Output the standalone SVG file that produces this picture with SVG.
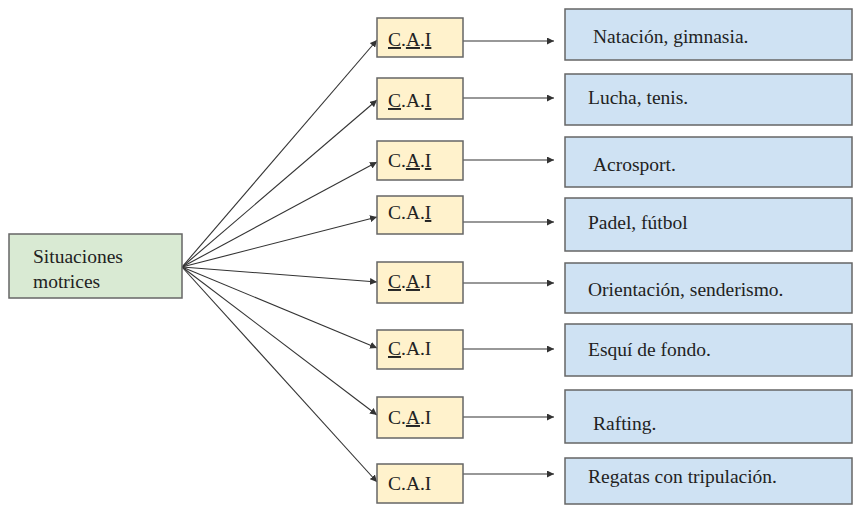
<svg xmlns="http://www.w3.org/2000/svg" width="855" height="505" viewBox="0 0 855 505">
<defs>
<marker id="ah" viewBox="0 0 10 10" refX="10" refY="5" markerWidth="7" markerHeight="7" markerUnits="userSpaceOnUse" orient="auto">
<path d="M0,0 L10,5 L0,10 z" fill="#333"/>
</marker>
<style>
.t{font-family:"Liberation Serif","Times New Roman",serif;font-size:19.5px;fill:#222}
.src{fill:#d9ead3;stroke:#666;stroke-width:1.5}
.cai{fill:#fff2cc;stroke:#666;stroke-width:1.5}
.res{fill:#cfe2f3;stroke:#666;stroke-width:1.5}
.u{text-decoration:underline}
#edges line{stroke:#333;stroke-width:1.1;marker-end:url(#ah)}
</style>
</defs>
<rect width="855" height="505" fill="#fff"/>
<g id="edges">
<line x1="182" y1="267" x2="377" y2="40"/>
<line x1="182" y1="267" x2="377" y2="100"/>
<line x1="182" y1="267" x2="377" y2="162"/>
<line x1="182" y1="267" x2="377" y2="217"/>
<line x1="182" y1="267" x2="377" y2="282"/>
<line x1="182" y1="267" x2="377" y2="348"/>
<line x1="182" y1="267" x2="377" y2="415"/>
<line x1="182" y1="267" x2="377" y2="482"/>
<line x1="463" y1="41" x2="554" y2="41"/>
<line x1="463" y1="98" x2="554" y2="98"/>
<line x1="463" y1="160" x2="554" y2="160"/>
<line x1="463" y1="222" x2="554" y2="222"/>
<line x1="463" y1="283" x2="554" y2="283"/>
<line x1="463" y1="349" x2="554" y2="349"/>
<line x1="463" y1="417" x2="554" y2="417"/>
<line x1="463" y1="474" x2="554" y2="474"/>
</g>
<g id="situaciones">
<rect class="src" x="9" y="234" width="173" height="64"/>
<text class="t" x="33" y="263">Situaciones</text>
<text class="t" x="33" y="288">motrices</text>
</g>
<g id="cai1"><rect class="cai" x="377" y="18" width="86" height="39"/><text class="t" x="388" y="46"><tspan class="u">C</tspan>.<tspan class="u">A</tspan>.<tspan class="u">I</tspan></text></g>
<g id="cai2"><rect class="cai" x="377" y="78" width="86" height="41"/><text class="t" x="388" y="107"><tspan class="u">C</tspan>.A.<tspan class="u">I</tspan></text></g>
<g id="cai3"><rect class="cai" x="377" y="141" width="86" height="39"/><text class="t" x="388" y="167">C.<tspan class="u">A</tspan>.<tspan class="u">I</tspan></text></g>
<g id="cai4"><rect class="cai" x="377" y="196" width="86" height="38"/><text class="t" x="388" y="219">C.A.<tspan class="u">I</tspan></text></g>
<g id="cai5"><rect class="cai" x="377" y="262" width="86" height="41"/><text class="t" x="388" y="288"><tspan class="u">C</tspan>.<tspan class="u">A</tspan>.I</text></g>
<g id="cai6"><rect class="cai" x="377" y="330" width="86" height="39"/><text class="t" x="388" y="355"><tspan class="u">C</tspan>.A.I</text></g>
<g id="cai7"><rect class="cai" x="377" y="397" width="86" height="41"/><text class="t" x="388" y="424">C.<tspan class="u">A</tspan>.I</text></g>
<g id="cai8"><rect class="cai" x="377" y="464" width="86" height="39"/><text class="t" x="388" y="490">C.A.I</text></g>
<g id="r1"><rect class="res" x="565" y="9" width="287" height="51"/><text class="t" x="593" y="43">Natación, gimnasia.</text></g>
<g id="r2"><rect class="res" x="565" y="74" width="287" height="51"/><text class="t" x="588" y="104">Lucha, tenis.</text></g>
<g id="r3"><rect class="res" x="565" y="137" width="287" height="50"/><text class="t" x="593" y="171">Acrosport.</text></g>
<g id="r4"><rect class="res" x="565" y="198" width="287" height="53"/><text class="t" x="588" y="229">Padel, fútbol</text></g>
<g id="r5"><rect class="res" x="565" y="263" width="287" height="50"/><text class="t" x="588" y="296">Orientación, senderismo.</text></g>
<g id="r6"><rect class="res" x="565" y="324" width="287" height="52"/><text class="t" x="588" y="356">Esquí de fondo.</text></g>
<g id="r7"><rect class="res" x="565" y="390" width="287" height="53"/><text class="t" x="593" y="430">Rafting.</text></g>
<g id="r8"><rect class="res" x="565" y="458" width="287" height="46"/><text class="t" x="588" y="483">Regatas con tripulación.</text></g>
</svg>
